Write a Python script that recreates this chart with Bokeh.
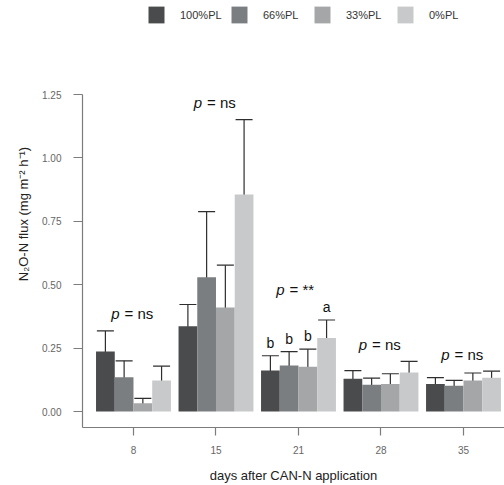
from bokeh.plotting import figure
from bokeh.models import (ColumnDataSource, Whisker, Legend, LegendItem, FixedTicker,
                          Range1d, TeeHead, NumeralTickFormatter)
from bokeh.core.properties import value
from bokeh.embed import file_html
from bokeh.resources import INLINE

# ---------------- data ----------------
days = ["8", "15", "21", "28", "35"]
treatments = ["100%PL", "66%PL", "33%PL", "0%PL"]

mean_100 = [0.237, 0.336, 0.162, 0.129, 0.109]
mean_66 = [0.135, 0.530, 0.182, 0.106, 0.102]
mean_33 = [0.033, 0.410, 0.177, 0.109, 0.122]
mean_0 = [0.122, 0.856, 0.290, 0.154, 0.133]

se_100 = [0.081, 0.086, 0.058, 0.032, 0.025]
se_66 = [0.065, 0.258, 0.054, 0.026, 0.021]
se_33 = [0.019, 0.167, 0.069, 0.040, 0.030]
se_0 = [0.057, 0.295, 0.071, 0.044, 0.026]

p_labels = ["ns", "ns", "**", "ns", "ns"]
letters_day21 = ["b", "b", "b", "a"]
y_ticks = [0.0, 0.25, 0.5, 0.75, 1.0, 1.25]

colors = ["#4a4b4d", "#7b7e80", "#a4a6a7", "#c8c9ca"]
FONT = "Liberation Sans"

means = [mean_100, mean_66, mean_33, mean_0]
ses = [se_100, se_66, se_33, se_0]

# ---------------- figure ----------------
Y0, Y1 = -0.063, 1.621
p = figure(width=504, height=485, output_backend="svg", toolbar_location=None,
           x_range=Range1d(0.382, 5.497), y_range=Range1d(Y0, Y1),
           min_border_left=82, min_border_right=0, min_border_top=0,
           min_border_bottom=58)
p.outline_line_color = None
p.xgrid.visible = False
p.ygrid.visible = False
p.background_fill_color = "white"

bar_w = 0.227
group_x = [i + 1 for i in range(len(days))]
renderers = []
uppers_all = []
for j, t in enumerate(treatments):
    xs = [g + (j - 1.5) * bar_w for g in group_x]
    lower = [m - s for m, s in zip(means[j], ses[j])]
    upper = [m + s for m, s in zip(means[j], ses[j])]
    uppers_all.append(upper)
    src = ColumnDataSource(dict(x=xs, top=means[j], lower=lower, upper=upper))
    r = p.vbar(x="x", top="top", bottom=0, width=bar_w, source=src,
               fill_color=colors[j], line_color=None)
    renderers.append(r)
    w = Whisker(base="x", lower="lower", upper="upper", source=src, dimension="height",
                line_color="#2e2e2e", line_width=1.2,
                upper_head=TeeHead(size=17, line_color="#2e2e2e", line_width=1.2),
                lower_head=TeeHead(size=17, line_color="#2e2e2e", line_width=1.2))
    p.add_layout(w)

# p-value annotations
group_top = [max(u[i] for u in uppers_all) for i in range(len(days))]
p_y_off = [-17 if lab != "**" else -30 for lab in p_labels]
src_p = ColumnDataSource(dict(x=group_x, y=group_top, txt=["= " + l for l in p_labels],
                              yo=p_y_off))
p.text(x="x", y="y", text=value("p"), source=src_p, x_offset=-14, y_offset="yo",
       text_align="right", text_baseline="middle", text_font=value(FONT),
       text_font_style="italic", text_font_size="15px", text_color="#111111")
p.text(x="x", y="y", text="txt", source=src_p, x_offset=-9, y_offset="yo",
       text_align="left", text_baseline="middle", text_font=value(FONT),
       text_font_size="15px", text_color="#111111")

# significance letters for day 21
gi = days.index("21")
src_l = ColumnDataSource(dict(
    x=[group_x[gi] + (j - 1.5) * bar_w for j in range(len(treatments))],
    y=[uppers_all[j][gi] for j in range(len(treatments))],
    txt=letters_day21))
p.text(x="x", y="y", text="txt", source=src_l, y_offset=-13,
       text_align="center", text_baseline="middle", text_font=value(FONT),
       text_font_size="14px", text_color="#111111")

# axes
axis_col = "#7c7c7c"
p.xaxis.ticker = FixedTicker(ticks=group_x)
p.xaxis.major_label_overrides = {g: d for g, d in zip(group_x, days)}
p.xaxis.axis_label = "days after CAN-N application"
p.yaxis.ticker = FixedTicker(ticks=y_ticks)
p.yaxis.formatter = NumeralTickFormatter(format="0.00")
p.yaxis.bounds = (Y0, y_ticks[-1])
p.yaxis.axis_label = "N\u2082O-N flux (mg m\u207b\u00b2 h\u207b\u00b9)"

for ax in (p.xaxis[0], p.yaxis[0]):
    ax.axis_line_color = axis_col
    ax.axis_line_width = 1.2
    ax.major_tick_line_color = axis_col
    ax.major_tick_line_width = 1.2
    ax.major_tick_in = 0
    ax.minor_tick_line_color = None
    ax.major_label_text_font = FONT
    ax.major_label_text_font_size = "10px"
    ax.major_label_text_color = "#666666"
    ax.axis_label_text_font = FONT
    ax.axis_label_text_font_size = "13px"
    ax.axis_label_text_font_style = "normal"
    ax.axis_label_text_color = "#222222"

p.xaxis.major_tick_out = 8
p.xaxis.major_label_standoff = 10
p.xaxis.axis_label_standoff = 11
p.yaxis.major_tick_out = 9
p.yaxis.major_label_standoff = 12
p.yaxis.axis_label_standoff = 8

# legend (inside the frame, above the y-axis bounds)
legend = Legend(items=[LegendItem(label=t, renderers=[r]) for t, r in zip(treatments, renderers)],
                orientation="horizontal", location=(64, 402),
                glyph_width=20, glyph_height=21, label_standoff=14, label_width=44,
                spacing=5, padding=0, margin=0, border_line_color=None,
                background_fill_alpha=0, label_text_font=FONT,
                label_text_font_size="11px", label_text_color="#333333")
p.add_layout(legend)

open("out.html", "w").write(file_html(p, INLINE))
